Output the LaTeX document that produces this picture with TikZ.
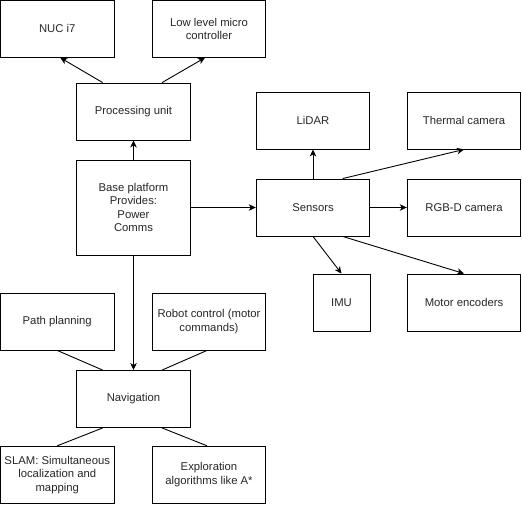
\documentclass[tikz,border=0pt]{standalone}
\usepackage{fontspec}
\setmainfont{Liberation Sans}
\usetikzlibrary{arrows.meta,calc}
\begin{document}
\begin{tikzpicture}[x=1pt,y=-1pt,
  box/.style={draw=black, line width=0.9pt, rectangle, inner sep=0pt,
    minimum width=113.5pt, minimum height=57pt, align=center,
    font=\fontsize{11.3}{13.5}\selectfont, text=black!85},
  link/.style={draw=black, line width=0.9pt},
  arr/.style={link, -{Stealth[length=7pt,width=6.5pt,inset=2pt]}}]
\useasboundingbox (0,0) rectangle (522,504);

% top row: compute hardware
\node[box] (nuc)  at (57.25,28.75) {NUC i7};
\node[box] (mcu)  at (209,28.75) {Low level micro\\controller};
\node[box] (proc) at (133.5,111.5) {Processing unit};

% base platform
\node[box, minimum height=95pt] (base) at (133.5,207.5) {Base platform\\Provides:\\Power\\Comms};

% sensors
\node[box] (sens)    at (313,207.5) {Sensors};
\node[box] (lidar)   at (313,120.5) {LiDAR};
\node[box] (thermal) at (464,120.5) {Thermal camera};
\node[box] (rgbd)    at (464,207.5) {RGB-D camera};
\node[box, minimum width=57pt] (imu) at (341.5,302.5) {IMU};
\node[box] (enc)     at (464,302.5) {Motor encoders};

% navigation
\node[box] (path)  at (57.25,321.5) {Path planning};
\node[box] (ctrl)  at (209,321.5) {Robot control (motor\\commands)};
\node[box] (nav)   at (133.5,399) {Navigation};
\node[box] (slam)  at (57.25,474.75) {SLAM: Simultaneous\\localization and\\mapping};
\node[box] (explo) at (209,474.75) {Exploration\\algorithms like A*};

% processing unit to its parts
\draw[arr] ($(proc.north west)!0.23!(proc.north east)$) -- ($(nuc.south)+(3,0)$);
\draw[arr] ($(proc.north west)!0.75!(proc.north east)$) -- ($(mcu.south)+(-4,0)$);
\draw[arr] (base.north) -- (proc.south);

% base platform to sensors and navigation
\draw[arr] (base.east) -- (sens.west);
\draw[arr] (base.south) -- (nav.north);

% sensors to devices
\draw[arr] (sens.north) -- (lidar.south);
\draw[arr] ($(sens.north west)!0.76!(sens.north east)$) -- (thermal.south);
\draw[arr] (sens.east) -- (rgbd.west);
\draw[arr] (sens.south) -- (imu.north);
\draw[arr] ($(sens.south west)!0.76!(sens.south east)$) -- (enc.north);

% navigation components
\draw[link] (path.south) -- ($(nav.north west)!0.23!(nav.north east)$);
\draw[link] ($(ctrl.south)+(-2,0)$) -- ($(nav.north west)!0.75!(nav.north east)$);
\draw[link] ($(nav.south west)!0.23!(nav.south east)$) -- (slam.north);
\draw[link] ($(nav.south west)!0.75!(nav.south east)$) -- ($(explo.north)+(-2,0)$);
\end{tikzpicture}
\end{document}
